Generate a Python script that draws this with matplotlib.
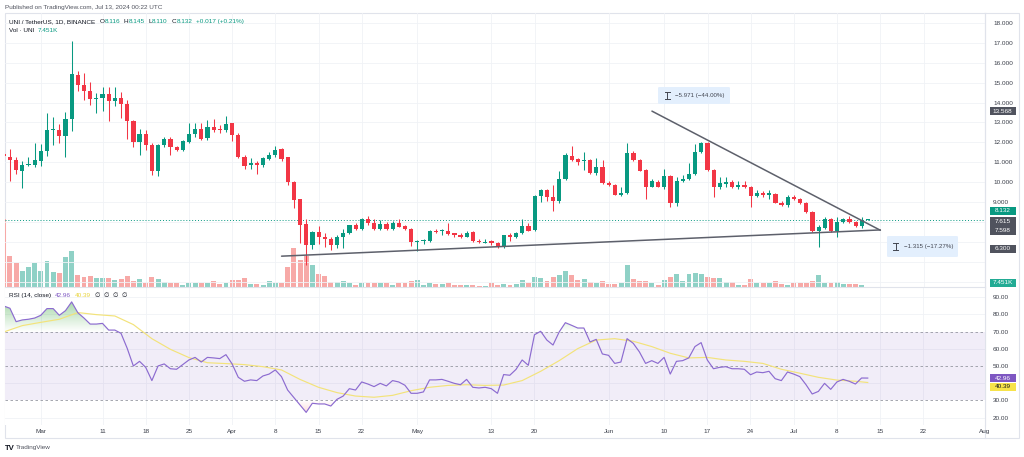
import numpy as np
import matplotlib
matplotlib.use('Agg')
import matplotlib.pyplot as plt
from matplotlib.patches import Rectangle, FancyBboxPatch
from matplotlib.lines import Line2D
from matplotlib.path import Path

plt.rcParams['font.family'] = ['Liberation Sans', 'DejaVu Sans']

# ---------------- data ----------------
first_day = '2024-02-24'
last_day = '2024-07-13'

opens = [11.40, 11.25, 11.12, 10.59, 10.86, 10.89, 11.09, 11.56, 12.60, 12.62,
         12.33, 13.16, 15.40, 14.90, 14.60, 14.16, 14.23, 14.43, 14.06, 14.23,
         13.93, 13.09, 12.02, 12.42, 11.89, 10.55, 11.89, 12.16, 11.79, 11.62,
         12.02, 12.42, 12.69, 12.22, 12.76, 12.66, 12.60, 12.96, 12.39, 11.29,
         10.85, 10.99, 10.89, 11.19, 11.39, 11.66, 11.26, 10.02, 9.15, 7.91,
         6.88, 7.51, 7.25, 7.18, 6.85, 7.28, 7.48, 7.85, 7.68, 8.18,
         7.95, 7.68, 7.91, 7.68, 7.98, 7.81, 7.68, 7.01, 7.04, 7.05,
         7.58, 7.55, 7.58, 7.45, 7.38, 7.28, 7.51, 7.08, 6.98, 7.05,
         6.98, 6.75, 7.35, 7.28, 7.45, 7.81, 7.61, 9.32, 9.62, 9.28,
         9.05, 10.19, 11.32, 11.19, 11.05, 11.12, 10.45, 10.75, 9.98, 9.88,
         9.38, 9.45, 11.45, 11.12, 10.62, 9.79, 10.02, 9.79, 10.32, 8.95,
         10.09, 10.15, 10.42, 11.52, 11.99, 10.62, 9.75, 9.92, 10.02, 9.79,
         9.85, 9.75, 9.32, 9.48, 9.38, 9.42, 8.98, 8.85, 9.28, 9.15,
         8.98, 8.52, 7.58, 7.72, 8.18, 7.58, 8.01, 8.15, 8.01, 7.81,
         8.116]
highs = [11.50, 11.66, 11.29, 11.09, 11.26, 11.96, 11.92, 13.49, 13.26, 12.92,
         13.53, 17.07, 15.56, 15.46, 15.03, 14.46, 14.76, 14.80, 14.80, 14.53,
         14.13, 13.13, 12.66, 12.62, 11.99, 11.92, 12.26, 12.26, 11.82, 12.12,
         12.99, 12.96, 12.96, 13.13, 13.16, 12.86, 13.33, 12.99, 12.46, 11.39,
         11.22, 11.05, 11.29, 11.52, 11.82, 11.72, 11.29, 10.05, 9.18, 8.18,
         7.58, 7.80, 7.45, 7.28, 7.35, 7.68, 7.88, 7.95, 8.22, 8.32,
         8.15, 8.11, 8.01, 8.05, 8.18, 7.85, 7.71, 7.11, 7.18, 7.61,
         7.68, 7.68, 7.95, 7.48, 7.45, 7.55, 7.55, 7.15, 7.18, 7.11,
         7.01, 7.38, 7.45, 7.51, 8.18, 7.95, 9.35, 9.68, 9.65, 9.85,
         10.55, 11.46, 11.82, 11.22, 11.52, 11.16, 11.22, 11.12, 10.05, 9.92,
         9.79, 11.99, 11.59, 11.19, 10.65, 10.15, 10.12, 10.69, 10.35, 10.29,
         10.35, 10.95, 11.92, 12.02, 12.02, 10.65, 10.29, 10.29, 10.12, 10.05,
         10.09, 9.82, 9.62, 9.58, 9.62, 9.45, 9.05, 9.35, 9.35, 9.22,
         9.02, 8.55, 7.85, 8.28, 8.22, 8.28, 8.22, 8.32, 8.05, 8.28,
         8.145]
lows = [11.10, 10.09, 10.42, 9.70, 10.80, 10.75, 10.82, 11.32, 11.87, 11.99,
        11.29, 12.59, 14.56, 14.13, 13.86, 13.49, 13.56, 13.06, 13.83, 13.23,
        12.16, 11.76, 11.36, 11.62, 10.39, 10.32, 11.79, 11.36, 11.59, 11.59,
        11.96, 12.26, 12.12, 12.12, 12.53, 12.49, 12.53, 12.06, 11.22, 10.69,
        10.69, 10.42, 10.79, 11.12, 11.29, 11.09, 9.89, 8.72, 6.96, 5.88,
        6.65, 6.90, 6.78, 6.61, 6.71, 6.71, 7.41, 7.61, 7.61, 7.85,
        7.61, 7.61, 7.61, 7.61, 7.75, 7.61, 6.81, 6.55, 6.91, 7.01,
        7.45, 7.38, 7.38, 7.28, 7.21, 7.25, 7.01, 6.98, 6.95, 6.85,
        6.71, 6.71, 7.05, 7.21, 7.41, 7.55, 7.58, 9.02, 9.05, 8.58,
        8.95, 10.12, 11.05, 10.89, 10.62, 10.42, 10.39, 9.92, 9.82, 9.35,
        9.32, 9.42, 11.05, 10.55, 9.18, 9.75, 9.75, 9.69, 8.75, 8.82,
        10.02, 10.12, 10.39, 11.49, 10.59, 9.25, 9.69, 9.79, 9.72, 9.69,
        9.72, 8.78, 9.28, 9.28, 9.18, 8.95, 8.82, 8.78, 9.12, 8.92,
        8.45, 7.52, 6.78, 7.68, 7.52, 7.28, 7.98, 7.95, 7.75, 7.71,
        8.110]
closes = [11.30, 11.12, 10.62, 10.85, 10.92, 11.12, 11.59, 12.62, 12.66, 12.33,
          13.19, 15.43, 14.86, 14.56, 14.16, 14.23, 14.43, 14.06, 14.23, 13.93,
          13.06, 12.02, 12.42, 11.86, 10.59, 11.89, 12.19, 11.76, 11.62, 12.06,
          12.42, 12.69, 12.19, 12.76, 12.62, 12.60, 12.92, 12.39, 11.26, 10.82,
          10.99, 10.89, 11.22, 11.39, 11.62, 11.19, 10.02, 9.12, 7.88, 6.86,
          7.51, 7.25, 7.18, 6.85, 7.28, 7.48, 7.85, 7.68, 8.18, 7.95,
          7.68, 7.91, 7.68, 7.98, 7.78, 7.68, 7.01, 7.08, 7.11, 7.58,
          7.51, 7.61, 7.41, 7.35, 7.28, 7.48, 7.05, 7.01, 7.01, 6.95,
          6.75, 7.35, 7.28, 7.45, 7.81, 7.58, 9.32, 9.62, 9.28, 9.05,
          10.19, 11.36, 11.12, 11.02, 11.12, 10.45, 10.79, 9.95, 9.85, 9.38,
          9.48, 11.45, 11.12, 10.59, 9.79, 10.05, 9.79, 10.32, 8.95, 10.09,
          10.19, 10.42, 11.52, 11.99, 10.62, 9.75, 9.95, 10.02, 9.75, 9.85,
          9.75, 9.32, 9.48, 9.38, 9.48, 8.98, 8.85, 9.28, 9.15, 8.98,
          8.52, 7.58, 7.75, 8.18, 7.58, 8.01, 8.15, 8.01, 7.81, 8.116,
          8.132]
# volume bar heights (relative units)
volume = [204, 94, 72, 50, 62, 72, 48, 80, 46, 42,
          90, 108, 38, 32, 34, 28, 28, 28, 22, 26,
          34, 20, 24, 14, 32, 24, 16, 14, 12, 8,
          12, 12, 14, 14, 18, 10, 14, 22, 22, 28,
          10, 10, 6, 18, 12, 14, 60, 119, 82, 94,
          66, 39, 34, 16, 17, 18, 14, 8, 14, 14,
          14, 14, 12, 8, 12, 12, 18, 22, 6, 14,
          10, 10, 14, 8, 6, 6, 8, 4, 4, 12,
          8, 10, 8, 10, 22, 12, 32, 28, 18, 32,
          38, 50, 38, 22, 24, 16, 12, 20, 9, 9,
          12, 66, 26, 20, 20, 14, 6, 22, 32, 40,
          20, 40, 42, 40, 30, 28, 28, 16, 16, 8,
          6, 26, 14, 14, 12, 20, 10, 6, 12, 12,
          14, 18, 38, 12, 12, 16, 10, 10, 10, 8,
          2]
rsi = [84.9, 83.6, 75.8, 76.8, 77.2, 77.9, 79.5, 83.4, 83.4, 79.5,
       82.2, 87.3, 81.0, 77.9, 74.4, 74.4, 74.8, 70.9, 70.9, 69.0,
       60.3, 50.0, 52.7, 49.2, 41.5, 50.0, 51.2, 48.4, 48.1, 50.8,
       53.5, 55.0, 52.3, 55.0, 54.7, 54.3, 56.6, 51.2, 43.4, 41.1,
       41.9, 41.5, 44.2, 45.3, 47.7, 43.8, 36.0, 31.7, 27.3, 23.0,
       28.3, 27.9, 27.9, 26.7, 30.6, 32.5, 36.8, 36.0, 40.7, 39.5,
       38.0, 39.9, 38.4, 41.5, 40.7, 38.8, 34.1, 34.1, 34.9, 41.9,
       41.9, 42.2, 41.1, 39.9, 39.1, 42.2, 37.6, 37.2, 37.6, 36.8,
       34.1, 45.0, 44.6, 48.0, 53.5, 50.4, 68.2, 70.2, 65.1, 62.2,
       69.8, 75.2, 73.7, 72.1, 72.1, 64.0, 65.5, 57.0, 56.2, 51.5,
       52.3, 65.9, 63.2, 58.2, 51.5, 53.1, 51.5, 55.0, 45.3, 52.7,
       53.1, 54.7, 61.3, 63.6, 53.5, 48.4, 49.2, 49.6, 48.4, 48.4,
       48.1, 44.9, 46.5, 46.1, 46.9, 42.6, 41.5, 46.5, 45.3, 43.8,
       39.1, 33.7, 35.2, 39.9, 36.4, 40.7, 42.2, 41.1, 39.5, 43.0,
       42.96]
# RSI-based moving average, read at every third session (0-based day index)
rsi_ma_idx = [0, 3, 6, 9, 12, 15, 18, 21, 24, 27, 30, 33, 36, 39, 42, 45, 48,
              51, 54, 57, 60, 63, 66, 69, 72, 75, 78, 81, 84, 87, 90, 93, 96,
              99, 102, 105, 108, 111, 114, 117, 120, 123, 126, 129, 132, 135,
              138, 140]
rsi_ma_vals = [69.8, 73.5, 75.4, 77.2, 81.1, 79.9, 79.1, 74.1, 65.9, 59.7,
               54.9, 51.9, 51.4, 50.8, 49.6, 47.7, 42.2, 37.6, 34.5, 32.5,
               31.8, 32.9, 35.6, 37.6, 38.7, 39.1, 38.7, 38.9, 41.5, 46.9,
               53.1, 60.1, 65.1, 65.9, 64.4, 61.3, 57.4, 54.7, 55.0, 53.5,
               52.7, 51.5, 48.1, 45.8, 43.4, 41.8, 41.1, 40.39]

# drawn trendlines (date, price)
upper_line_dates = ['2024-06-08', '2024-07-15']
upper_line_prices = [13.568, 7.598]
lower_line_dates = ['2024-04-09', '2024-07-15']
lower_line_prices = [6.300, 7.615]

tick_dates = ['2024-03-01', '2024-03-11', '2024-03-18', '2024-03-25', '2024-04-01',
              '2024-04-08', '2024-04-15', '2024-04-22', '2024-05-01', '2024-05-13',
              '2024-05-20', '2024-06-01', '2024-06-10', '2024-06-17', '2024-06-24',
              '2024-07-01', '2024-07-08', '2024-07-15', '2024-07-22', '2024-08-01']
tick_labels = ['Mar', '11', '18', '25', 'Apr', '8', '15', '22', 'May', '13',
               '20', 'Jun', '10', '17', '24', 'Jul', '8', '15', '22', 'Aug']
price_ticks = [9, 10, 11, 12, 13, 14, 15, 16, 17, 18]
rsi_ticks = [20, 30, 50, 60, 70, 80, 90]

last_price = 8.132
rsi_last, rsi_ma_last = 42.96, 40.39

# ---------------- helpers ----------------
W, H = 1024, 457
REF = np.datetime64('2024-03-01')


def dnum(d):
    return (np.asarray(d, dtype='datetime64[D]') - REF).astype(float)


def fx(x):
    return x / W


def fy(y):
    return 1 - y / H


UP, DOWN = '#089981', '#f23645'
VUP, VDOWN = '#8fd1c6', '#f7a9a7'
GRID = '#f0f2f6'
BORDER = '#e0e3eb'
TXT = '#131722'
AX_TXT = '#3a3e49'

dates = np.arange(np.datetime64(first_day), np.datetime64(last_day) + 1)
xd = dnum(dates)
o = np.array(opens); h = np.array(highs); l = np.array(lows); c = np.array(closes)
up = c >= o
XMIN, XMAX = -5.8, 152.95

fig = plt.figure(figsize=(W / 100, H / 100), dpi=100)
fig.patch.set_facecolor('white')

L, R = 5, 985
TOP, SEP, RBOT = 13.3, 287.3, 425.0
main_rect = [fx(L), fy(SEP), fx(R - L), (SEP - TOP) / H]
rsi_rect = [fx(L), fy(RBOT), fx(R - L), (RBOT - SEP) / H]

# volume axes (behind)
axv = fig.add_axes(main_rect, zorder=1)
axv.set_xlim(XMIN, XMAX)
axv.set_ylim(0, 3 * (SEP - TOP))
axv.bar(xd, volume, width=0.8, color=np.where(up, VUP, VDOWN), linewidth=0)
axv.axis('off')

# price axes
ax = fig.add_axes(main_rect, zorder=2)
ax.patch.set_alpha(0)
ax.set_xlim(XMIN, XMAX)
ax.set_ylim(4.74, 18.47)
for p in range(5, 19):
    ax.axhline(p, color=GRID, lw=0.6, zorder=0)
for td in dnum(tick_dates):
    ax.axvline(td, color=GRID, lw=0.6, zorder=0)

cols = np.where(up, UP, DOWN)
ax.vlines(xd, l, h, colors=cols, lw=0.75, zorder=3)
body = np.maximum(np.abs(c - o), 0.05)
ax.bar(xd, body, bottom=np.minimum(o, c), width=0.68, color=cols, linewidth=0, zorder=4)

ax.axhline(last_price, color=UP, lw=0.7, ls=(0, (1, 2)), zorder=2)
ax.plot(dnum(upper_line_dates), upper_line_prices, color='#5d606b', lw=1.1, zorder=5,
        solid_capstyle='round')
ax.plot(dnum(lower_line_dates), lower_line_prices, color='#5d606b', lw=1.1, zorder=5,
        solid_capstyle='round')

ax.yaxis.tick_right()
ax.set_yticks(price_ticks)
ax.set_yticklabels(['%.3f' % p for p in price_ticks], fontsize=4.6, color=AX_TXT)
ax.tick_params(axis='y', length=0, pad=5.8)
ax.set_xticks([])
for s in ['left', 'top', 'bottom']:
    ax.spines[s].set_visible(False)
ax.spines['right'].set_color(BORDER)
ax.spines['right'].set_linewidth(0.8)

# RSI axes
axr = fig.add_axes(rsi_rect, zorder=2)
axr.set_facecolor('white')
rs = np.array(rsi)
for v in [20, 40, 60, 80, 90]:
    axr.axhline(v, color=GRID, lw=0.6, zorder=0)
for td in dnum(tick_dates):
    axr.axvline(td, color=GRID, lw=0.6, zorder=0)
axr.axhspan(30, 70, color='#7e57c2', alpha=0.1, lw=0, zorder=1)
for v in [70, 50, 30]:
    axr.axhline(v, color='#9598a1', lw=0.6, ls=(0, (3, 3)), zorder=2)


def grad_fill(y0, y1, where, rgb, a_far, far_level, near_level):
    poly = axr.fill_between(xd, y0, y1, where=where, interpolate=True,
                            facecolor='none', edgecolor='none')
    paths = poly.get_paths()
    if not paths:
        return
    comp = Path.make_compound_path(*paths)
    g = np.zeros((100, 1, 4))
    g[..., 0], g[..., 1], g[..., 2] = rgb
    lo, hi = min(far_level, near_level), max(far_level, near_level)
    alphas = np.linspace(1, 0, 100) if far_level > near_level else np.linspace(0, 1, 100)
    g[:, 0, 3] = a_far * alphas
    im = axr.imshow(g, extent=[XMIN, XMAX, lo, hi], origin='upper', aspect='auto',
                    zorder=2.5, interpolation='bilinear')
    im.set_clip_path(comp, transform=axr.transData)


grad_fill(70, rs, rs > 70, (0.30, 0.69, 0.31), 0.55, 90, 70)
grad_fill(30, rs, rs < 30, (0.95, 0.35, 0.35), 0.35, 18, 30)

axr.plot(xd, rs, color='#8c6bd0', lw=0.85, zorder=4)
axr.plot(xd[np.array(rsi_ma_idx)], rsi_ma_vals, color='#f3e37a', lw=0.85, zorder=3)

axr.set_xlim(XMIN, XMAX)
axr.set_ylim(15.65, 95.8)
axr.yaxis.tick_right()
axr.set_yticks(rsi_ticks)
axr.set_yticklabels(['%.2f' % v for v in rsi_ticks], fontsize=4.6, color=AX_TXT)
axr.tick_params(axis='y', length=0, pad=5.8)
axr.set_xticks(dnum(tick_dates))
axr.set_xticklabels(tick_labels, fontsize=4.6, color=AX_TXT)
axr.tick_params(axis='x', length=0, pad=3.2)
for s in ['left', 'bottom']:
    axr.spines[s].set_visible(False)
for s in ['top', 'right']:
    axr.spines[s].set_color(BORDER)
    axr.spines[s].set_linewidth(0.8)

# frame & right-axis divider
fig.add_artist(Rectangle((fx(5), fy(437.7)), fx(1019 - 5), (437.7 - 13.3) / H,
                         transform=fig.transFigure, fill=False, ec=BORDER, lw=0.8))
fig.add_artist(Line2D([fx(R), fx(R)], [fy(13.3), fy(437.7)], transform=fig.transFigure,
                      color=BORDER, lw=0.8))


# ---------------- text overlays ----------------
def tag(yc, text, fc, tc='white', y_half=4.0):
    fig.add_artist(Rectangle((fx(989.5), fy(yc + y_half)), fx(26), 2 * y_half / H,
                             transform=fig.transFigure, fc=fc, ec='none', zorder=10))
    fig.text(fx(1002.5), fy(yc), text, color=tc, fontsize=4.6, ha='center', va='center',
             zorder=11)


tag(111.2, '13.568', '#50535e')
tag(211.0, '8.132', UP)
fig.add_artist(Rectangle((fx(989.5), fy(234.5)), fx(26), 17.5 / H,
                         transform=fig.transFigure, fc='#50535e', ec='none', zorder=10))
fig.text(fx(1002.5), fy(221.5), '7.615', color='white', fontsize=4.6, ha='center',
         va='center', zorder=11)
fig.text(fx(1002.5), fy(230.2), '7.598', color='white', fontsize=4.6, ha='center',
         va='center', zorder=11)
tag(248.5, '6.300', '#50535e')
tag(282.6, '7.451K', '#22ab94')
tag(378.3, '%.2f' % rsi_last, '#7e57c2')
tag(387.0, '%.2f' % rsi_ma_last, '#f7e34a', tc=TXT)

# measurement labels
def measure(x0, x1, y0, y1, icon_x, text):
    fig.add_artist(FancyBboxPatch((fx(x0), fy(y1)), fx(x1 - x0), (y1 - y0) / H,
                                  boxstyle='round,pad=0,rounding_size=0.002',
                                  transform=fig.transFigure, fc='#e3effd', ec='none',
                                  zorder=8))
    yc = (y0 + y1) / 2
    fig.add_artist(Line2D([fx(icon_x), fx(icon_x)], [fy(yc - 3.5), fy(yc + 3.5)],
                          transform=fig.transFigure, color='#434651', lw=0.7, zorder=9))
    for yy in (yc - 3.5, yc + 3.5):
        fig.add_artist(Line2D([fx(icon_x - 2.5), fx(icon_x + 2.5)], [fy(yy), fy(yy)],
                              transform=fig.transFigure, color='#434651', lw=0.7, zorder=9))
    fig.text(fx(icon_x + 8), fy(yc), text, fontsize=4.4, color='#434651', ha='left',
             va='center', zorder=9)


measure(658, 730, 87, 104, 667, '\u22125.971 (\u221244.00%)')
measure(887, 958, 236, 257, 895.5, '\u22121.315 (\u221217.27%)')

renderer = fig.canvas.get_renderer()


def seq(x0, y, parts, size=4.6):
    x = x0
    for txt, col, gap in parts:
        t = fig.text(fx(x), fy(y), txt, color=col, fontsize=size, ha='left', va='center')
        x += t.get_window_extent(renderer=renderer).width + gap


fig.text(fx(5), fy(7.0), 'Published on TradingView.com, Jul 13, 2024 00:22 UTC',
         fontsize=4.6, color='#50535e', ha='left', va='center')
seq(9.3, 21.7, [('UNI / TetherUS, 1D, BINANCE', TXT, 4),
                ('O', TXT, 0.3), ('%.3f' % opens[-1], UP, 3.5),
                ('H', TXT, 0.3), ('%.3f' % highs[-1], UP, 3.5),
                ('L', TXT, 0.3), ('%.3f' % lows[-1], UP, 3.5),
                ('C', TXT, 0.3), ('%.3f' % closes[-1], UP, 3.5),
                ('+0.017 (+0.21%)', UP, 0)])
seq(9.3, 31.0, [('Vol \u00b7 UNI', TXT, 3.5), ('7.451K', UP, 0)])
seq(9.3, 295.7, [('RSI (14, close)', TXT, 3.5), ('%.2f' % rsi_last, '#7e57c2', 3.5),
                 ('%.2f' % rsi_ma_last, '#e8d33a', 5),
                 ('\u2205  \u2205  \u2205  \u2205', TXT, 0)])

fig.text(fx(5), fy(448), 'TV', fontsize=5.6, fontweight='bold', color=TXT,
         ha='left', va='center')
fig.text(fx(15.5), fy(448), 'TradingView', fontsize=4.6, color='#50535e',
         ha='left', va='center')

fig.savefig('out.png', dpi=100, facecolor='white')
